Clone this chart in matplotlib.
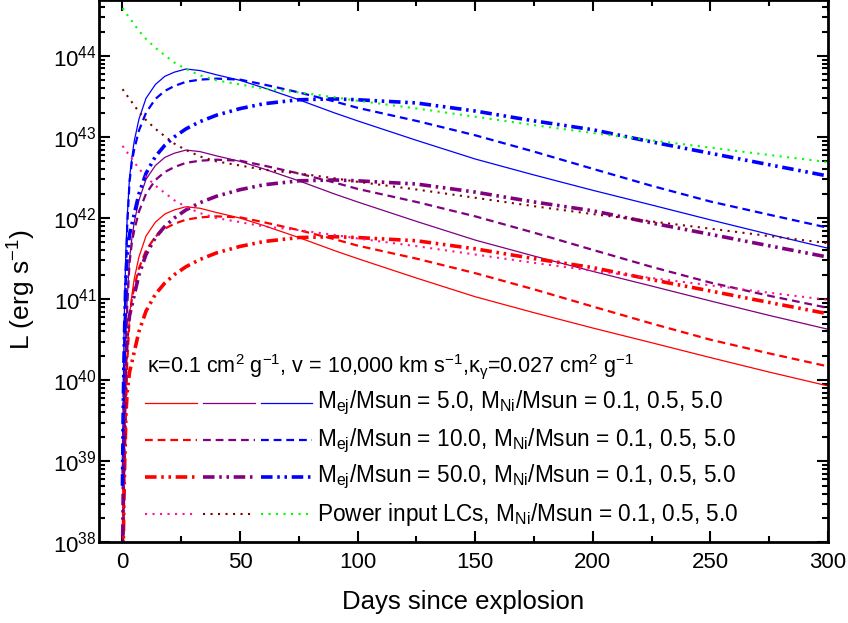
import numpy as np
import matplotlib
matplotlib.use("Agg")
import matplotlib.pyplot as plt
from matplotlib.ticker import FixedLocator, MultipleLocator, NullFormatter

plt.rcParams['font.family'] = ['Liberation Sans', 'DejaVu Sans']
plt.rcParams['mathtext.fontset'] = 'custom'
plt.rcParams['mathtext.rm'] = 'Liberation Sans'
plt.rcParams['mathtext.it'] = 'Liberation Sans:italic'
plt.rcParams['mathtext.default'] = 'regular'

# days since explosion (shared by all curves)
days = [0, 0.3, 0.6, 1, 1.5, 2, 3, 4, 5, 7, 10, 14, 18, 22, 27, 33, 40, 50, 60, 75,
        90, 100, 125, 150, 175, 200, 225, 250, 275, 300]

# Mej = 5 Msun, MNi = 0.1 / 0.5 / 5.0 Msun
L_m5_ni01 = [1e37, 7.9e37, 6.3e38, 2.5e39, 8.9e39, 2.0e40, 6.3e40, 1.12e41, 1.78e41, 3.31e41,
             6.0e41, 8.9e41, 1.12e42, 1.26e42, 1.38e42, 1.32e42, 1.17e42, 1.0e42, 8.1e41, 5.75e41,
             3.98e41, 3.16e41, 1.82e41, 1.07e41, 6.8e40, 4.4e40, 2.9e40, 1.9e40, 1.26e40, 8.5e39]
L_m5_ni05 = [5e37, 3.95e38, 3.15e39, 1.25e40, 4.45e40, 1.0e41, 3.15e41, 5.6e41, 8.9e41, 1.66e42,
             3.0e42, 4.45e42, 5.6e42, 6.3e42, 6.9e42, 6.6e42, 5.85e42, 5.0e42, 4.05e42, 2.88e42,
             1.99e42, 1.58e42, 9.1e41, 5.35e41, 3.4e41, 2.2e41, 1.45e41, 9.5e40, 6.3e40, 4.25e40]
L_m5_ni5 = [5e38, 3.95e39, 3.15e40, 1.25e41, 4.45e41, 1.0e42, 3.15e42, 5.6e42, 8.9e42, 1.66e43,
            3.0e43, 4.45e43, 5.6e43, 6.3e43, 6.9e43, 6.6e43, 5.85e43, 5.0e43, 4.05e43, 2.88e43,
            1.99e43, 1.58e43, 9.1e42, 5.35e42, 3.4e42, 2.2e42, 1.45e42, 9.5e41, 6.3e41, 4.25e41]

# Mej = 10 Msun
L_m10_ni01 = [1e37, 4.0e37, 2.5e38, 1.0e39, 4.0e39, 1.58e40, 5.6e40, 1.0e41, 1.41e41, 2.4e41,
              3.98e41, 5.9e41, 7.4e41, 8.5e41, 9.55e41, 1.02e42, 1.05e42, 1.02e42, 8.9e41, 7.1e41,
              5.5e41, 4.57e41, 3.16e41, 2.09e41, 1.32e41, 8.1e40, 5.0e40, 3.16e40, 2.14e40, 1.48e40]
L_m10_ni05 = [5e37, 2.0e38, 1.25e39, 5.0e39, 2.0e40, 7.9e40, 2.8e41, 5.0e41, 7.05e41, 1.2e42,
              1.99e42, 2.95e42, 3.7e42, 4.25e42, 4.8e42, 5.1e42, 5.25e42, 5.1e42, 4.45e42, 3.55e42,
              2.75e42, 2.29e42, 1.58e42, 1.05e42, 6.6e41, 4.05e41, 2.5e41, 1.6e41, 1.1e41, 7.8e40]
L_m10_ni5 = [5e38, 2.0e39, 1.25e40, 5.0e40, 2.0e41, 7.9e41, 2.8e42, 5.0e42, 7.05e42, 1.2e43,
             1.99e43, 2.95e43, 3.7e43, 4.25e43, 4.8e43, 5.1e43, 5.25e43, 5.1e43, 4.45e43, 3.55e43,
             2.75e43, 2.29e43, 1.58e43, 1.05e43, 6.6e42, 4.05e42, 2.5e42, 1.6e42, 1.1e42, 7.6e41]

# Mej = 50 Msun
L_m50_ni01 = [1e37, 7.9e37, 3.16e38, 1.12e39, 4.0e39, 7.1e39, 1.26e40, 1.66e40, 2.24e40, 3.98e40,
              7.1e40, 1.15e41, 1.58e41, 2.0e41, 2.51e41, 3.09e41, 3.72e41, 4.47e41, 5.13e41, 5.75e41,
              5.89e41, 5.75e41, 5.25e41, 4.17e41, 3.16e41, 2.45e41, 1.74e41, 1.26e41, 9.1e40, 6.6e40]
L_m50_ni05 = [5e37, 3.95e38, 1.58e39, 5.6e39, 2.0e40, 3.55e40, 6.3e40, 8.3e40, 1.12e41, 1.99e41,
              3.55e41, 5.75e41, 7.9e41, 1.0e42, 1.26e42, 1.55e42, 1.86e42, 2.24e42, 2.57e42, 2.88e42,
              2.95e42, 2.88e42, 2.63e42, 2.09e42, 1.58e42, 1.23e42, 8.7e41, 6.3e41, 4.55e41, 3.3e41]
L_m50_ni5 = [5e38, 3.95e39, 1.58e40, 5.6e40, 2.0e41, 3.55e41, 6.3e41, 8.3e41, 1.12e42, 1.99e42,
             3.55e42, 5.75e42, 7.9e42, 1.0e43, 1.26e43, 1.55e43, 1.86e43, 2.24e43, 2.57e43, 2.88e43,
             2.95e43, 2.88e43, 2.63e43, 2.09e43, 1.58e43, 1.23e43, 8.7e42, 6.3e42, 4.55e42, 3.3e42]

# power input (Ni + Co decay)
L_in_ni01 = [7.76e42, 7.59e42, 7.24e42, 7.08e42, 6.76e42, 6.46e42, 5.89e42, 5.37e42, 4.9e42, 4.07e42,
             3.24e42, 2.51e42, 2.04e42, 1.66e42, 1.38e42, 1.15e42, 1.0e42, 8.9e41, 7.9e41, 7.1e41,
             6.2e41, 5.6e41, 4.5e41, 3.55e41, 2.8e41, 2.24e41, 1.82e41, 1.48e41, 1.2e41, 9.8e40]
L_in_ni05 = [3.88e43, 3.8e43, 3.62e43, 3.54e43, 3.38e43, 3.23e43, 2.95e43, 2.69e43, 2.45e43, 2.04e43,
             1.62e43, 1.26e43, 1.02e43, 8.3e42, 6.9e42, 5.75e42, 5.0e42, 4.45e42, 3.95e42, 3.55e42,
             3.1e42, 2.8e42, 2.25e42, 1.78e42, 1.4e42, 1.12e42, 9.1e41, 7.4e41, 6.0e41, 4.9e41]
L_in_ni5 = [3.88e44, 3.8e44, 3.62e44, 3.54e44, 3.38e44, 3.23e44, 2.95e44, 2.69e44, 2.45e44, 2.04e44,
            1.62e44, 1.26e44, 1.02e44, 8.3e43, 6.9e43, 5.75e43, 5.0e43, 4.45e43, 3.95e43, 3.55e43,
            3.1e43, 2.8e43, 2.25e43, 1.78e43, 1.4e43, 1.12e43, 9.1e42, 7.4e42, 6.0e42, 4.9e42]

ytick_vals = [1e38, 1e39, 1e40, 1e41, 1e42, 1e43, 1e44]

ni_colors = ['#FF0000', '#800080', '#0000FF']
input_colors = ['#FF1493', '#800000', '#00FF00']

styles = {
    'solid': dict(linestyle='-', lw=0.9),
    'dashed': dict(linestyle=(0, (3.5, 2.2)), lw=1.6),
    'dashdotdot': dict(linestyle=(0, (3.2, 1.3, 0.7, 1.3, 0.7, 1.3)), lw=2.6),
    'dotted': dict(linestyle=(0, (1, 2.6)), lw=1.5),
}

groups = [
    ('solid', [L_m5_ni01, L_m5_ni05, L_m5_ni5], ni_colors),
    ('dashed', [L_m10_ni01, L_m10_ni05, L_m10_ni5], ni_colors),
    ('dashdotdot', [L_m50_ni01, L_m50_ni05, L_m50_ni5], ni_colors),
    ('dotted', [L_in_ni01, L_in_ni05, L_in_ni5], input_colors),
]
labels = [
    r'M$_{ej}$/Msun = 5.0, M$_{Ni}$/Msun = 0.1, 0.5, 5.0',
    r'M$_{ej}$/Msun = 10.0, M$_{Ni}$/Msun = 0.1, 0.5, 5.0',
    r'M$_{ej}$/Msun = 50.0, M$_{Ni}$/Msun = 0.1, 0.5, 5.0',
    r'Power input LCs, M$_{Ni}$/Msun = 0.1, 0.5, 5.0',
]

fig = plt.figure(figsize=(8.48, 6.23), dpi=100)
ax = fig.add_axes([0.1167, 0.1295, 0.8597, 0.8705])

for style, curves, colors in groups:
    for L, c in zip(curves, colors):
        ax.plot(days, L, color=c, **styles[style])

ax.set_yscale('log')
ax.set_xlim(-10, 300)
ax.set_ylim(1e38, 10 ** 44.69)

ax.xaxis.set_major_locator(MultipleLocator(50))
ax.xaxis.set_minor_locator(MultipleLocator(25))
ax.yaxis.set_major_locator(FixedLocator(ytick_vals))
minor_y = [m * v for v in ytick_vals for m in range(2, 10)]
ax.yaxis.set_minor_locator(FixedLocator(minor_y))
ax.yaxis.set_minor_formatter(NullFormatter())

ax.tick_params(which='both', direction='in', top=True, right=True, width=1.5, labelsize=16)
ax.tick_params(which='major', length=8)
ax.tick_params(which='minor', length=4.5)
ax.tick_params(axis='x', pad=7)
ax.tick_params(axis='y', pad=1.5)
for sp in ax.spines.values():
    sp.set_linewidth(2)

ax.set_xlabel('Days since explosion', fontsize=18.5)
ax.set_ylabel('L (erg s$^{-1}$)', fontsize=19)
ax.xaxis.set_label_coords(0.5, -0.088)
ax.yaxis.set_label_coords(-0.083, 0.465)

# legend drawn by hand: three short line samples per row
ax.text(0.0657, 0.325, 'κ=0.1 cm$^2$ g$^{-1}$, v = 10,000 km s$^{-1}$,κ$_{γ}$=0.027 cm$^2$ g$^{-1}$',
        transform=ax.transAxes, fontsize=15.5, va='center', ha='left')
row_y = [0.2565, 0.188, 0.120, 0.0517]
seg_x = [(0.0629, 0.134), (0.1423, 0.2134), (0.2216, 0.2927)]
for (style, curves, colors), label, yy in zip(groups, labels, row_y):
    for (x0, x1), c in zip(seg_x, colors):
        ax.plot([x0, x1], [yy, yy], color=c, transform=ax.transAxes, **styles[style])
    ax.text(0.2985, yy, label, transform=ax.transAxes, fontsize=16.3, va='center', ha='left')

fig.savefig('out.png', dpi=100)
